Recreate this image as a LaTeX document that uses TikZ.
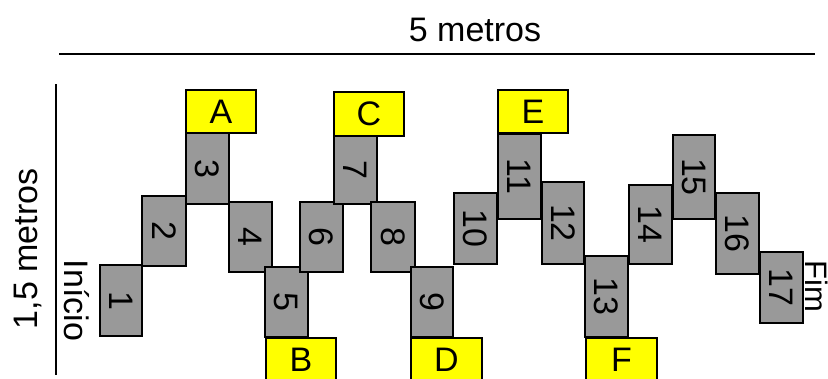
\documentclass[tikz,border=0pt]{standalone}
\usepackage{fontspec}
\setmainfont{Liberation Sans}
\definecolor{boxgray}{HTML}{999999}
\definecolor{boxyellow}{HTML}{FFFF00}
\newcommand{\cell}[7]{%
  \node[#1, minimum width={#5-#3}, minimum height={#6-#4}] (#2) at ({(#3+#5)/2},{(#4+#6)/2}) {#7};}
\begin{document}
\begin{tikzpicture}[x=1pt,y=-1pt,
  every node/.style={font=\fontsize{34}{40}\selectfont, inner sep=0pt, outer sep=0pt},
  gcell/.style={draw=black, line width=1.6pt, fill=boxgray},
  ycell/.style={draw=black, line width=1.6pt, fill=boxyellow},
  rule/.style={line width=1.5pt, draw=black}]
\useasboundingbox (0,0) rectangle (828,378);
% rules
\coordinate (h1) at (59,54); \coordinate (h2) at (815,54);
\coordinate (v1) at (56,84); \coordinate (v2) at (56,375);
\draw[rule] (h1) -- (h2);
\draw[rule] (v1) -- (v2);
\node[anchor=base] (width) at (475,41) {5 metros};
\node[anchor=base, rotate=90] (height) at (37,249) {1,5 metros};
\node[anchor=base, rotate=-90] (start) at (64,300.5) {Início};
\node[anchor=base, rotate=-90, font=\fontsize{31}{36}\selectfont] (end) at (805,286) {Fim};
% gray steps
\cell{gcell}{s1}{100}{265}{142}{336}{\rotatebox{-90}{1}}
\cell{gcell}{s2}{142}{196}{186}{266}{\rotatebox{-90}{2}}
\cell{gcell}{s3}{186}{133}{229}{204}{\rotatebox{-90}{3}}
\cell{gcell}{s4}{229}{202}{272}{272}{\rotatebox{-90}{4}}
\cell{gcell}{s5}{265}{267}{308}{337}{\rotatebox{-90}{5}}
\cell{gcell}{s6}{300}{202}{343}{272}{\rotatebox{-90}{6}}
\cell{gcell}{s7}{334}{136}{377}{204}{\rotatebox{-90}{7}}
\cell{gcell}{s8}{371}{202}{415}{272}{\rotatebox{-90}{8}}
\cell{gcell}{s9}{411}{267}{453}{337}{\rotatebox{-90}{9}}
\cell{gcell}{s10}{454}{193}{497}{264}{\rotatebox{-90}{10}}
\cell{gcell}{s11}{498}{134}{541}{219}{\rotatebox{-90}{11}}
\cell{gcell}{s12}{542}{182}{584}{264}{\rotatebox{-90}{12}}
\cell{gcell}{s13}{585}{256}{628}{337}{\rotatebox{-90}{13}}
\cell{gcell}{s14}{629}{185}{672}{264}{\rotatebox{-90}{14}}
\cell{gcell}{s15}{673}{135}{715}{219}{\rotatebox{-90}{15}}
\cell{gcell}{s16}{716}{193}{759}{274}{\rotatebox{-90}{16}}
\cell{gcell}{s17}{760}{252}{803}{323}{\rotatebox{-90}{17}}
% yellow labels
\cell{ycell}{la}{186}{90}{256}{133}{A}
\cell{ycell}{lb}{266}{338}{336}{381}{B}
\cell{ycell}{lc}{334}{92}{404}{136}{C}
\cell{ycell}{ld}{411}{338}{482}{381}{D}
\cell{ycell}{le}{498}{90}{568}{133}{E}
\cell{ycell}{lf}{586}{338}{657}{381}{F}
\end{tikzpicture}
\end{document}
